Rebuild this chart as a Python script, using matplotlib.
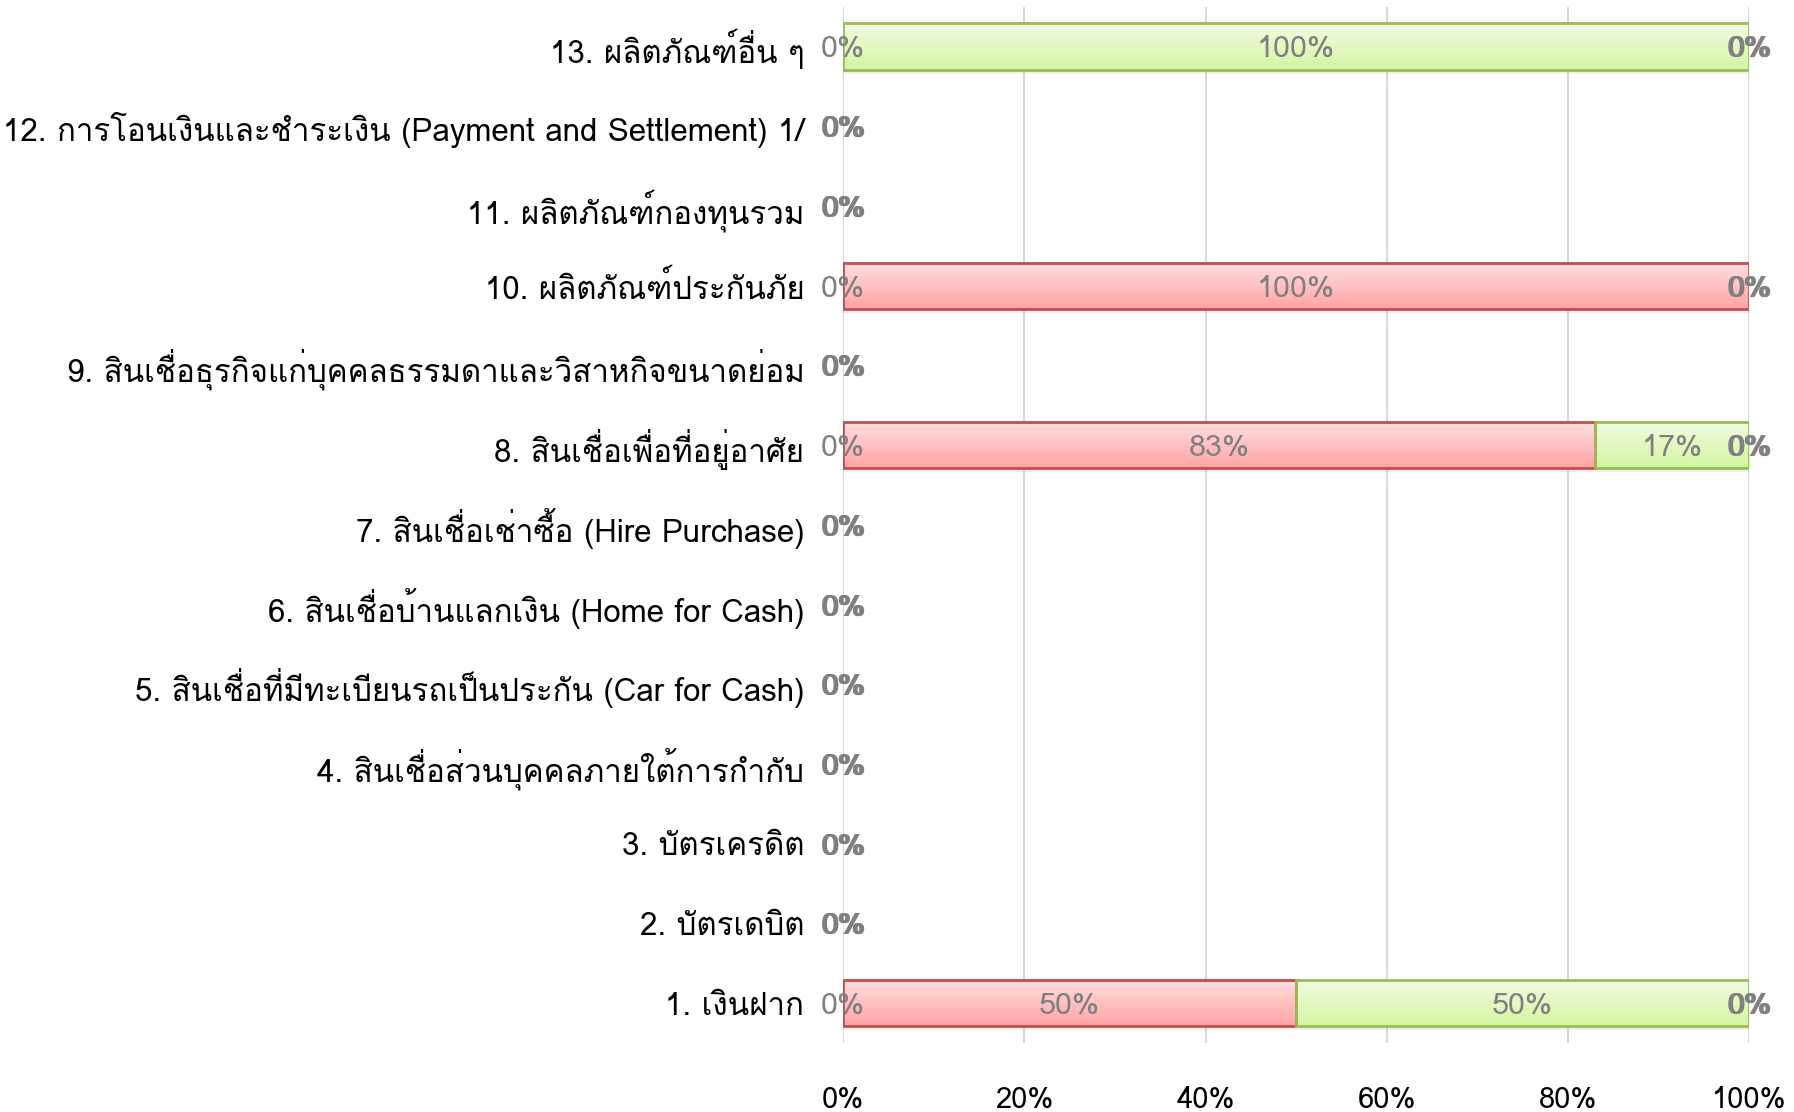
"""
100% stacked bar chart of complaint outcomes by product group (Thai labels)
"""

import numpy as np
import matplotlib
matplotlib.use("Agg")
import matplotlib.pyplot as plt
from matplotlib import font_manager
from matplotlib.ft2font import FT2Font

# categories, bottom to top
categories = [
    "1. เงินฝาก",
    "2. บัตรเดบิต",
    "3. บัตรเครดิต",
    "4. สินเชื่อส่วนบุคคลภายใต้การกำกับ",
    "5. สินเชื่อที่มีทะเบียนรถเป็นประกัน (Car for Cash)",
    "6. สินเชื่อบ้านแลกเงิน (Home for Cash)",
    "7. สินเชื่อเช่าซื้อ (Hire Purchase)",
    "8. สินเชื่อเพื่อที่อยู่อาศัย",
    "9. สินเชื่อธุรกิจแก่บุคคลธรรมดาและวิสาหกิจขนาดย่อม",
    "10. ผลิตภัณฑ์ประกันภัย",
    "11. ผลิตภัณฑ์กองทุนรวม",
    "12. การโอนเงินและชำระเงิน (Payment and Settlement) 1/",
    "13. ผลิตภัณฑ์อื่น ๆ",
]

# percent values per series (np.nan = no data label shown)
first_pct = [0, 0, 0, 0, 0, 0, 0, 0, 0, 0, 0, 0, 0]
red_pct = [50, np.nan, np.nan, np.nan, np.nan, np.nan, np.nan, 83, np.nan, 100, np.nan, np.nan, np.nan]
green_pct = [50, np.nan, np.nan, np.nan, np.nan, np.nan, np.nan, 17, np.nan, np.nan, np.nan, np.nan, 100]
tail1_pct = [0, 0, 0, 0, 0, 0, 0, 0, 0, 0, 0, 0, 0]
tail2_pct = [0, 0, 0, 0, 0, 0, 0, 0, 0, 0, 0, 0, 0]

xticks = [0, 20, 40, 60, 80, 100]
xtick_labels = ["0%", "20%", "40%", "60%", "80%", "100%"]


def find_thai_font():
    for f in font_manager.fontManager.ttflist:
        try:
            if 0x0E01 in FT2Font(f.fname).get_charmap():
                return f.name
        except Exception:
            pass
    return None


thai = find_thai_font()
families = ([thai] if thai else []) + ["DejaVu Sans"]
plt.rcParams["font.family"] = families

fig = plt.figure(figsize=(17.94, 11.12), dpi=100)
ax = fig.add_axes([0.470, 0.062, 0.505, 0.932])

y = np.arange(len(categories))
h = 0.58
red = np.nan_to_num(np.array(red_pct, dtype=float))
green = np.nan_to_num(np.array(green_pct, dtype=float))


def gradient_bars(bars, top_color, bottom_color):
    grad = np.linspace(0, 1, 64).reshape(-1, 1)
    c1 = np.array(matplotlib.colors.to_rgb(top_color))
    c2 = np.array(matplotlib.colors.to_rgb(bottom_color))
    img = c1 + (c2 - c1) * grad[..., None]
    for b in bars:
        if b.get_width() <= 0:
            b.set_visible(False)
            continue
        x0, y0 = b.get_x(), b.get_y()
        im = ax.imshow(img, extent=(x0, x0 + b.get_width(), y0, y0 + b.get_height()),
                       aspect="auto", zorder=2, interpolation="bilinear")
        im.set_clip_path(b)
        # soft shadow under the bar
        ax.barh(b.get_y() + b.get_height() / 2 - 0.05, b.get_width(), h, left=x0,
                color="#000000", alpha=0.06, zorder=1.5, linewidth=0)


bars_red = ax.barh(y, red, h, left=first_pct, facecolor="none",
                   edgecolor="#C0504D", linewidth=2, zorder=3)
gradient_bars(bars_red, "#FFE0E0", "#FFA3A3")
bars_green = ax.barh(y, green, h, left=red, facecolor="none",
                     edgecolor="#9BBB59", linewidth=2, zorder=3)
gradient_bars(bars_green, "#F2FCE4", "#D4F5A0")

lab_kw = dict(color="#808080", fontsize=22, ha="center", va="center", zorder=5,
              textcoords="offset points")
for i in range(len(categories)):
    ax.annotate(f"{first_pct[i]:.0f}%", (first_pct[i], y[i]), xytext=(0, -2), **lab_kw)
    if not np.isnan(red_pct[i]):
        ax.annotate(f"{red_pct[i]:.0f}%", (red[i] / 2, y[i]), xytext=(0, -2), **lab_kw)
    if not np.isnan(green_pct[i]):
        ax.annotate(f"{green_pct[i]:.0f}%", (red[i] + green[i] / 2, y[i]),
                    xytext=(0, -2), **lab_kw)
    end = red[i] + green[i]
    ax.annotate(f"{tail1_pct[i]:.0f}%", (end, y[i]), xytext=(0, -2), **lab_kw)
    ax.annotate(f"{tail2_pct[i]:.0f}%", (end, y[i]), xytext=(1.5, -2), **lab_kw)

ax.set_xlim(0, 100)
ax.set_ylim(-0.5, len(categories) - 0.5)
ax.set_xticks(xticks)
ax.set_xticklabels(xtick_labels, fontsize=21)
ax.set_yticks(y)
ax.set_yticklabels(categories, fontsize=22.5)
ax.tick_params(axis="both", length=0)
ax.tick_params(axis="x", pad=31)
ax.tick_params(axis="y", pad=28)
ax.grid(axis="x", color="#D9D9D9", linewidth=1.5, zorder=0)
ax.set_axisbelow(True)
for s in ax.spines.values():
    s.set_visible(False)

fig.savefig("out.png", dpi=100)
